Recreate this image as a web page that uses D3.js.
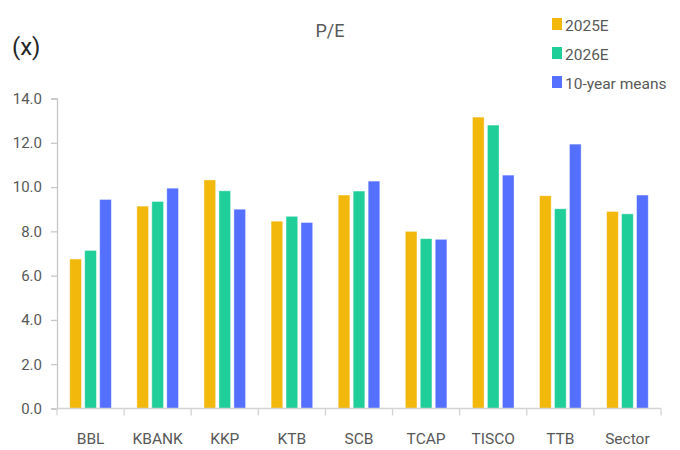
<!DOCTYPE html>
<html>
<head>
<meta charset="utf-8">
<script src="https://cdn.jsdelivr.net/npm/d3@7"></script>
<style>
	body { margin: 0; background: #fff; }
	text { font-family: Roboto, "Noto Sans", sans-serif; }
</style>
</head>
<body>
<div class="chart"></div>
<script>
(function (){

	// Chart data
	var categories = ["BBL", "KBANK", "KKP", "KTB", "SCB", "TCAP", "TISCO", "TTB", "Sector"];
	var seriesNames = ["2025E", "2026E", "10-year means"];
	var values2025 = [6.75, 9.14, 10.32, 8.46, 9.64, 8.0, 13.16, 9.61, 8.9];
	var values2026 = [7.14, 9.35, 9.83, 8.68, 9.82, 7.67, 12.8, 9.02, 8.79];
	var valuesMean = [9.44, 9.95, 9.0, 8.4, 10.27, 7.64, 10.54, 11.94, 9.64];
	var yTicks = [0, 2, 4, 6, 8, 10, 12, 14];

	var colors = ["#F2B80C", "#20CE99", "#5570FF"];

	var margin = { top: 98.5, right: 19, bottom: 41.5, left: 57 };
	var width = 680 - margin.left - margin.right, height = 450 - margin.top - margin.bottom;

	var svg = d3.select(".chart")
		.append("svg")
		.attr("width", 680)
		.attr("height", 450);

	var g = svg.append("g")
		.attr("transform", "translate(" + margin.left + "," + margin.top + ")");

	// Scales
	var xScale = d3.scaleBand()
		.domain(categories)
		.range([0, width])
		.paddingInner(0)
		.paddingOuter(0);

	var xInner = d3.scaleBand()
		.domain(seriesNames)
		.range([xScale.bandwidth() * 0.19, xScale.bandwidth() * 0.81])
		.paddingInner(0.22);

	var yScale = d3.scaleLinear()
		.domain([0, 14])
		.range([height, 0]);

	var series = [values2025, values2026, valuesMean];

	// Bars
	var groups = g.selectAll(".cat")
		.data(categories)
		.enter()
		.append("g")
		.attr("class", "cat")
		.attr("transform", function(d){ return "translate(" + xScale(d) + ",0)"; });

	groups.selectAll("rect")
		.data(function(d, i){ return seriesNames.map(function(s, j){ return { s: s, j: j, v: series[j][i] }; }); })
		.enter()
		.append("rect")
		.attr("x", function(d){ return xInner(d.s); })
		.attr("y", function(d){ return yScale(d.v); })
		.attr("width", xInner.bandwidth())
		.attr("height", function(d){ return yScale(0) - yScale(d.v); })
		.attr("fill", function(d){ return colors[d.j]; })
		.attr("stroke", "#fff")
		.attr("stroke-opacity", 0.5)
		.attr("stroke-width", 0.8);

	// Y axis
	var yAxis = d3.axisLeft(yScale)
		.tickValues(yTicks)
		.tickSize(6)
		.tickPadding(9)
		.tickFormat(d3.format(".1f"));

	var yAxisG = g.append("g").call(yAxis);
	yAxisG.select(".domain").attr("stroke", "#c8c8c8").attr("stroke-width", 1.3);
	yAxisG.selectAll(".tick line").attr("stroke", "#c8c8c8").attr("stroke-width", 1.3);
	yAxisG.selectAll(".tick text")
		.attr("fill", "#595959")
		.style("font-size", "15px");

	// X axis
	var xAxisG = g.append("g")
		.attr("transform", "translate(0," + height + ")");

	xAxisG.append("line")
		.attr("x1", 0).attr("x2", width)
		.attr("stroke", "#d4d4d4").attr("stroke-width", 1.3);

	var bounds = categories.map(function(d){ return xScale(d); }).concat([width]);
	xAxisG.selectAll(".xtick")
		.data(bounds)
		.enter()
		.append("line")
		.attr("x1", function(d){ return d; })
		.attr("x2", function(d){ return d; })
		.attr("y1", 0).attr("y2", 7)
		.attr("stroke", "#d4d4d4").attr("stroke-width", 1.3);

	xAxisG.selectAll(".xlabel")
		.data(categories)
		.enter()
		.append("text")
		.attr("x", function(d){ return xScale(d) + xScale.bandwidth() / 2; })
		.attr("y", 35)
		.attr("text-anchor", "middle")
		.attr("fill", "#595959")
		.style("font-size", "15.5px")
		.text(function(d){ return d; });

	// Title
	svg.append("text")
		.attr("x", 330)
		.attr("y", 37)
		.attr("text-anchor", "middle")
		.attr("fill", "#595959")
		.style("font-size", "18px")
		.text("P/E");

	// Unit label
	svg.append("text")
		.attr("x", 12)
		.attr("y", 55)
		.attr("fill", "#262626")
		.style("font-size", "24px")
		.text("(x)");

	// Legend
	var legend = svg.append("g")
		.attr("transform", "translate(552,18)");

	var items = legend.selectAll("g")
		.data(seriesNames)
		.enter()
		.append("g")
		.attr("transform", function(d, i){ return "translate(0," + (i * 29) + ")"; });

	items.append("rect")
		.attr("width", 10)
		.attr("height", 12)
		.attr("fill", function(d, i){ return colors[i]; });

	items.append("text")
		.attr("x", 13)
		.attr("y", 12.5)
		.attr("fill", "#595959")
		.style("font-size", "15.5px")
		.text(function(d){ return d; });
})();
</script>
</body>
</html>
